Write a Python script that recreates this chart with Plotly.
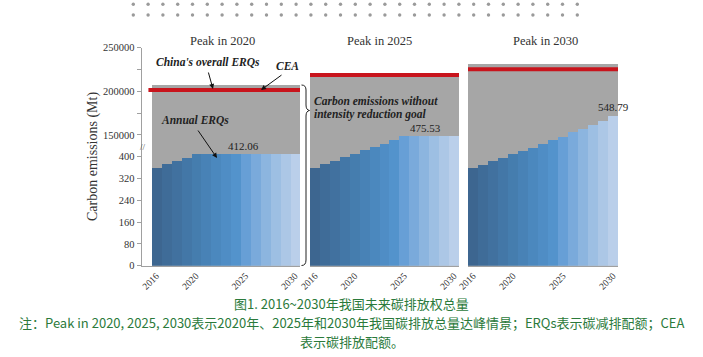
import plotly.graph_objects as go

# ---------------- data ----------------
years = list(range(2016, 2031))
peak_labels = ["Peak in 2020", "Peak in 2025", "Peak in 2030"]
annual_2020 = [360, 373, 385, 398, 412.06, 412.06, 412.06, 412.06, 412.06, 412.06,
               412.06, 412.06, 412.06, 412.06, 412.06]
annual_2025 = [360, 373, 386, 399, 412, 424, 437, 449, 462, 475.53,
               475.53, 475.53, 475.53, 475.53, 475.53]
annual_2030 = [358, 371, 384, 398, 412, 422, 433, 447, 461, 474,
               490, 504, 519, 532, 548.79]
overall_erq = [208000, 221500, 232000]   # gray total (upper scale)
cea = [201500, 218700, 225200]           # red line (upper scale)
peak_values = ["412.06", "475.53", "548.79"]
upper_ticks = [150000, 200000, 250000]
upper_ticktext = ["150000", "200000", "250000"]
lower_ticks = [0, 80, 160, 240, 320, 400]
xtick_years = [2016, 2020, 2025, 2030]
caption1 = "图1. 2016~2030年我国未来碳排放权总量"
caption2 = "注：Peak in 2020, 2025, 2030表示2020年、2025年和2030年我国碳排放总量达峰情景；ERQs表示碳减排配额；CEA"
caption3 = "表示碳排放配额。"

bar_colors = ["#3D6690", "#3F6C98", "#41719F", "#4377A7", "#457DAE", "#4882B6",
              "#4B88BE", "#4F8DC5", "#5393CC", "#679FD6", "#7AAADB", "#8CB5DF",
              "#9DBFE3", "#ACC7E6", "#BACFEA"]

W, H = 703, 357
def P(x):
    return x / W
def Q(y):
    return 1 - y / H

SERIF = "Liberation Serif"
GRAY = "#A6A6A6"
RED = "#C8141C"
AXC = "#A0A0A0"

panels = [
    dict(xd=(141.5, 300), xr=(2014.5, 2030.5), vals=annual_2020, red=(2015.2, 2030.7)),
    dict(xd=(310, 459), xr=(2015.5, 2030.5), vals=annual_2025, red=(2015.3, 2030.6)),
    dict(xd=(468, 618), xr=(2015.5, 2030.5), vals=annual_2030, red=(2015.5, 2030.6)),
]
ydom = [Q(265.7), Q(47.7)]

fig = go.Figure()
layout = dict(width=W, height=H, margin=dict(l=0, r=0, t=0, b=0, autoexpand=False),
              paper_bgcolor="white", plot_bgcolor="rgba(0,0,0,0)",
              showlegend=False, bargap=0, font=dict(family=SERIF, color="#333"))
shapes = []
for i, p in enumerate(panels):
    xn = "x" if i == 0 else f"x{i+1}"
    yb = "y" if i == 0 else f"y{2*i+1}"
    yo = f"y{2*i+2}"
    xk = "xaxis" if i == 0 else f"xaxis{i+1}"
    ybk = "yaxis" if i == 0 else f"yaxis{2*i+1}"
    yok = f"yaxis{2*i+2}"
    fig.add_trace(go.Bar(x=years, y=[overall_erq[i]] * len(years), width=1,
                         marker=dict(color=GRAY, line=dict(width=0)),
                         xaxis=xn, yaxis=yb, hoverinfo="skip"))
    fig.add_trace(go.Bar(x=years, y=p["vals"], width=1,
                         marker=dict(color=bar_colors, line=dict(width=0)),
                         xaxis=xn, yaxis=yo, hoverinfo="skip"))
    layout[xk] = dict(domain=[P(p["xd"][0]), P(p["xd"][1])], range=list(p["xr"]),
                      anchor=yb, showline=True, linecolor=AXC, linewidth=1, automargin=False,
                      showgrid=False, zeroline=False, tickvals=xtick_years,
                      ticktext=[str(v) for v in xtick_years],
                      tickangle=-45, ticks="", tickfont=dict(family=SERIF, size=9.5, color="#333"))
    first = (i == 0)
    layout[ybk] = dict(domain=ydom, range=[0, 250000], anchor=xn, showgrid=False,
                       zeroline=False, showline=first, linecolor=AXC, linewidth=1,
                       automargin=False,
                       tickvals=upper_ticks, ticktext=upper_ticktext, showticklabels=first,
                       ticks="outside" if first else "", ticklen=4, tickcolor=AXC,
                       tickfont=dict(family=SERIF, size=10.5, color="#333"),
                       minor=dict(tickvals=[175000, 225000], ticks="outside" if first else "",
                                  ticklen=4, tickcolor=AXC))
    layout[yok] = dict(domain=ydom, range=[0, 800], anchor=xn, overlaying=yb, side="left",
                       showgrid=False, zeroline=False, showline=False, automargin=False,
                       tickvals=lower_ticks, ticktext=[str(v) for v in lower_ticks],
                       showticklabels=first,
                       ticks="outside" if first else "", ticklen=4, tickcolor=AXC,
                       tickfont=dict(family=SERIF, size=10.5, color="#333"))
    shapes.append(dict(type="line", xref=xn, yref=yb, x0=p["red"][0], x1=p["red"][1],
                       y0=cea[i], y1=cea[i], line=dict(color=RED, width=4)))

# decorative dots at top
for r in (4.3, 15.0):
    for k in range(31):
        cx = 133.3 + k * 14.8
        shapes.append(dict(type="circle", xref="paper", yref="paper",
                           x0=P(cx - 1.7), x1=P(cx + 1.7), y0=Q(r + 1.7), y1=Q(r - 1.7),
                           fillcolor="#9A9A9A", line=dict(width=0)))

def pt(x, y):
    return f"{P(x):.5f},{Q(y):.5f}"
brace = ("M " + pt(301.5, 85) + " Q " + pt(306, 85) + " " + pt(306, 90) +
         " L " + pt(306, 105) + " Q " + pt(306, 110) + " " + pt(309.5, 110.5) +
         " Q " + pt(306, 111) + " " + pt(306, 116) +
         " L " + pt(306, 260) + " Q " + pt(306, 265.5) + " " + pt(301.5, 265.5))
shapes.append(dict(type="path", xref="paper", yref="paper", path=brace,
                   line=dict(color="#222", width=1)))
layout["shapes"] = shapes

ann = []
def txt(x, y, s, size=11.5, bold=False, italic=False, color="#222", xanchor="center", angle=0, fam=SERIF):
    t = s
    if bold:
        t = f"<b>{t}</b>"
    if italic:
        t = f"<i>{t}</i>"
    ann.append(dict(x=P(x), y=Q(y), xref="paper", yref="paper", text=t, showarrow=False,
                    xanchor=xanchor, yanchor="middle", textangle=angle,
                    font=dict(family=fam, size=size, color=color)))

def arrow(tx, ty, hx, hy):
    ann.append(dict(x=P(hx), y=Q(hy), xref="paper", yref="paper", text="", showarrow=True,
                    ax=tx - hx, ay=ty - hy, arrowhead=2, arrowsize=1, arrowwidth=1,
                    arrowcolor="#111"))

for cx, s in zip([222, 379, 545.5], peak_labels):
    txt(cx, 41, s, size=12.5, color="#333")
for (cx, cy), s in zip([(243.5, 145.7), (425, 127.7), (613, 106.5)], peak_values):
    txt(cx, cy, s, size=11, color="#222")

txt(207.5, 62, "China's overall ERQs", size=11.5, bold=True, italic=True)
txt(287.5, 66, "CEA", size=11.5, bold=True, italic=True)
txt(195, 120, "Annual ERQs", size=11.5, bold=True, italic=True)
txt(312, 101, "Carbon emissions without", size=11.5, bold=True, italic=True, xanchor="left")
txt(312, 114.5, "intensity reduction goal", size=11.5, bold=True, italic=True, xanchor="left")
arrow(208, 71, 213, 89)
arrow(283, 74, 261, 90)
arrow(197, 129, 217, 158)

txt(93, 157, "Carbon emissions (Mt)", size=14, color="#333", angle=-90)
txt(142.5, 146.5, "//", size=9, color="#555")

CJK = "Noto Sans CJK SC"
GREEN = "#2B7A3B"
txt(351.5, 303, caption1, size=13, color=GREEN, fam=CJK)
txt(351.5, 322, caption2, size=13, color=GREEN, fam=CJK)
txt(351.5, 341, caption3, size=13, color=GREEN, fam=CJK)

layout["annotations"] = ann
fig.update_layout(**layout)
fig.write_html("out.html", config={"displayModeBar": False},
               post_script="document.body.style.margin='0';document.body.style.padding='0';")
